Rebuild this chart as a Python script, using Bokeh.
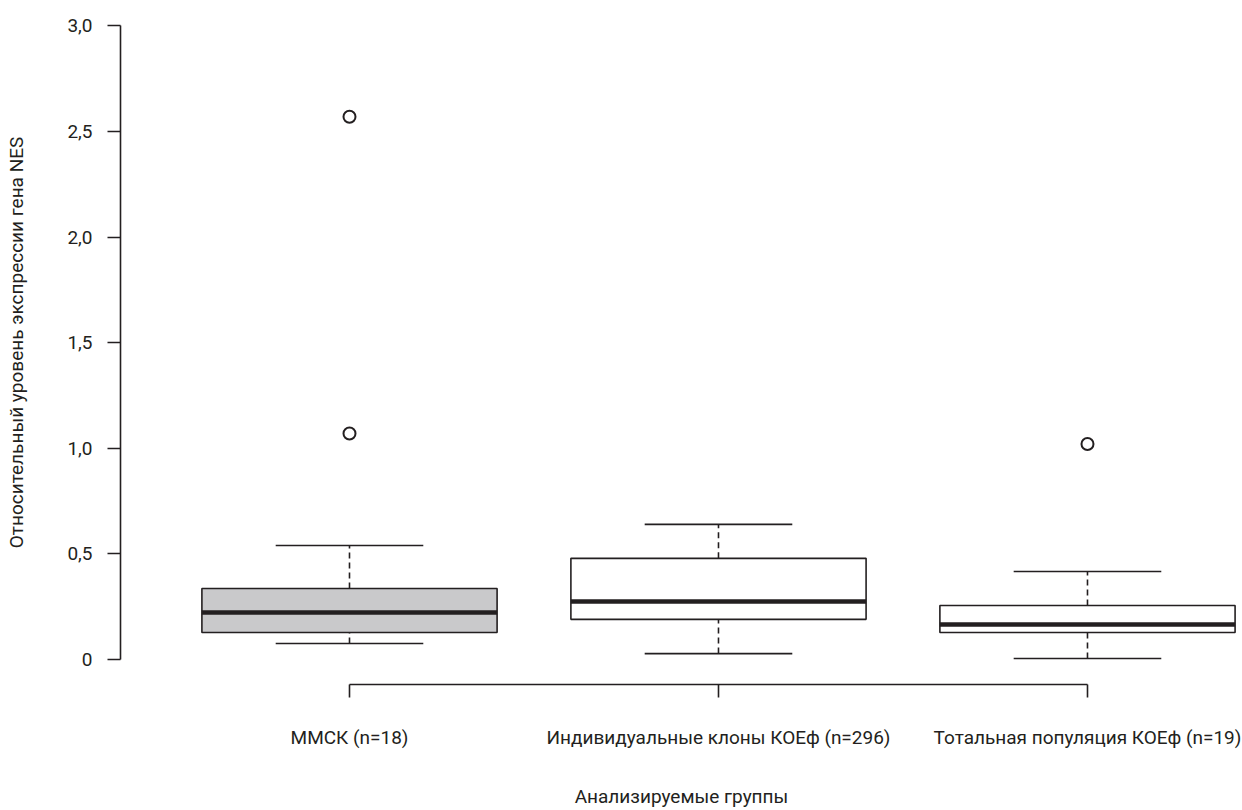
from bokeh.plotting import figure
from bokeh.models import FixedTicker, Range1d, ColumnDataSource
from bokeh.embed import file_html
from bokeh.resources import INLINE

# ---- data ----
groups = ["ММСК (n=18)", "Индивидуальные клоны КОЕф (n=296)", "Тотальная популяция КОЕф (n=19)"]
group_pos = [1, 2, 3]
q1 = [0.128, 0.190, 0.128]
median = [0.223, 0.275, 0.166]
q3 = [0.336, 0.479, 0.256]
whisk_low = [0.076, 0.028, 0.005]
whisk_high = [0.540, 0.640, 0.417]
box_fill = ["#c9c9cb", "#ffffff", "#ffffff"]
outlier_pos = [1, 1, 3]
outlier_val = [2.57, 1.07, 1.02]
y_ticks = [0, 0.5, 1.0, 1.5, 2.0, 2.5, 3.0]
y_tick_labels = ["0", "0,5", "1,0", "1,5", "2,0", "2,5", "3,0"]
x_title = "Анализируемые группы"
y_title = "Относительный уровень экспрессии гена NES"

FONT = "Roboto"
INK = "#231f20"
BOX_W = 0.8
CAP_W = 0.4

p = figure(width=1242, height=810, output_backend="svg", toolbar_location=None,
           x_range=Range1d(0.3794, 3.4201), y_range=Range1d(-0.1184, 3.1203),
           min_border_left=120, min_border_right=0, min_border_top=0, min_border_bottom=126)
p.outline_line_color = None
p.xgrid.visible = False
p.ygrid.visible = False
p.background_fill_color = "white"
p.border_fill_color = "white"

src = ColumnDataSource(dict(
    x=group_pos, q1=q1, med=median, q3=q3, lo=whisk_low, hi=whisk_high, fill=box_fill,
    left=[g - BOX_W / 2 for g in group_pos], right=[g + BOX_W / 2 for g in group_pos],
    cl=[g - CAP_W / 2 for g in group_pos], cr=[g + CAP_W / 2 for g in group_pos],
))

# whiskers (dashed)
p.segment(x0="x", y0="q3", x1="x", y1="hi", source=src, line_color=INK, line_width=1.6, line_dash="6 4")
p.segment(x0="x", y0="lo", x1="x", y1="q1", source=src, line_color=INK, line_width=1.6, line_dash="6 4")
# caps
p.segment(x0="cl", y0="hi", x1="cr", y1="hi", source=src, line_color=INK, line_width=1.6)
p.segment(x0="cl", y0="lo", x1="cr", y1="lo", source=src, line_color=INK, line_width=1.6)
# boxes
p.quad(left="left", right="right", bottom="q1", top="q3", source=src,
       fill_color="fill", line_color=INK, line_width=1.6)
# medians
p.segment(x0="left", y0="med", x1="right", y1="med", source=src, line_color=INK, line_width=4.5,
          line_cap="butt")
# outliers
p.scatter(x=outlier_pos, y=outlier_val, marker="circle", size=12, fill_color="white",
          line_color=INK, line_width=2)

# y axis
ya = p.yaxis[0]
ya.ticker = FixedTicker(ticks=y_ticks)
ya.major_label_overrides = {float(t): l for t, l in zip(y_ticks, y_tick_labels)}
ya.bounds = (0, 3)
ya.minor_tick_line_color = None
ya.major_tick_in = 0
ya.major_tick_out = 13
ya.major_label_standoff = 15
ya.axis_line_color = INK
ya.axis_line_width = 1.6
ya.major_tick_line_color = INK
ya.major_tick_line_width = 1.6
ya.major_label_text_font = FONT
ya.major_label_text_font_size = "19px"
ya.major_label_text_color = INK
ya.axis_label = y_title
ya.axis_label_text_font = FONT
ya.axis_label_text_font_style = "normal"
ya.axis_label_text_font_size = "19px"
ya.axis_label_text_color = INK
ya.axis_label_standoff = 36

# x axis
xa = p.xaxis[0]
xa.ticker = FixedTicker(ticks=group_pos)
xa.major_label_overrides = {float(g): n for g, n in zip(group_pos, groups)}
xa.bounds = (1, 3)
xa.minor_tick_line_color = None
xa.major_tick_in = 0
xa.major_tick_out = 13
xa.major_label_standoff = 28
xa.axis_line_color = INK
xa.axis_line_width = 1.6
xa.major_tick_line_color = INK
xa.major_tick_line_width = 1.6
xa.major_label_text_font = FONT
xa.major_label_text_font_size = "19px"
xa.major_label_text_color = INK
xa.axis_label = x_title
xa.axis_label_text_font = FONT
xa.axis_label_text_font_style = "normal"
xa.axis_label_text_font_size = "19px"
xa.axis_label_text_color = INK
xa.axis_label_standoff = 33

open("out.html", "w").write(file_html(p, INLINE))
